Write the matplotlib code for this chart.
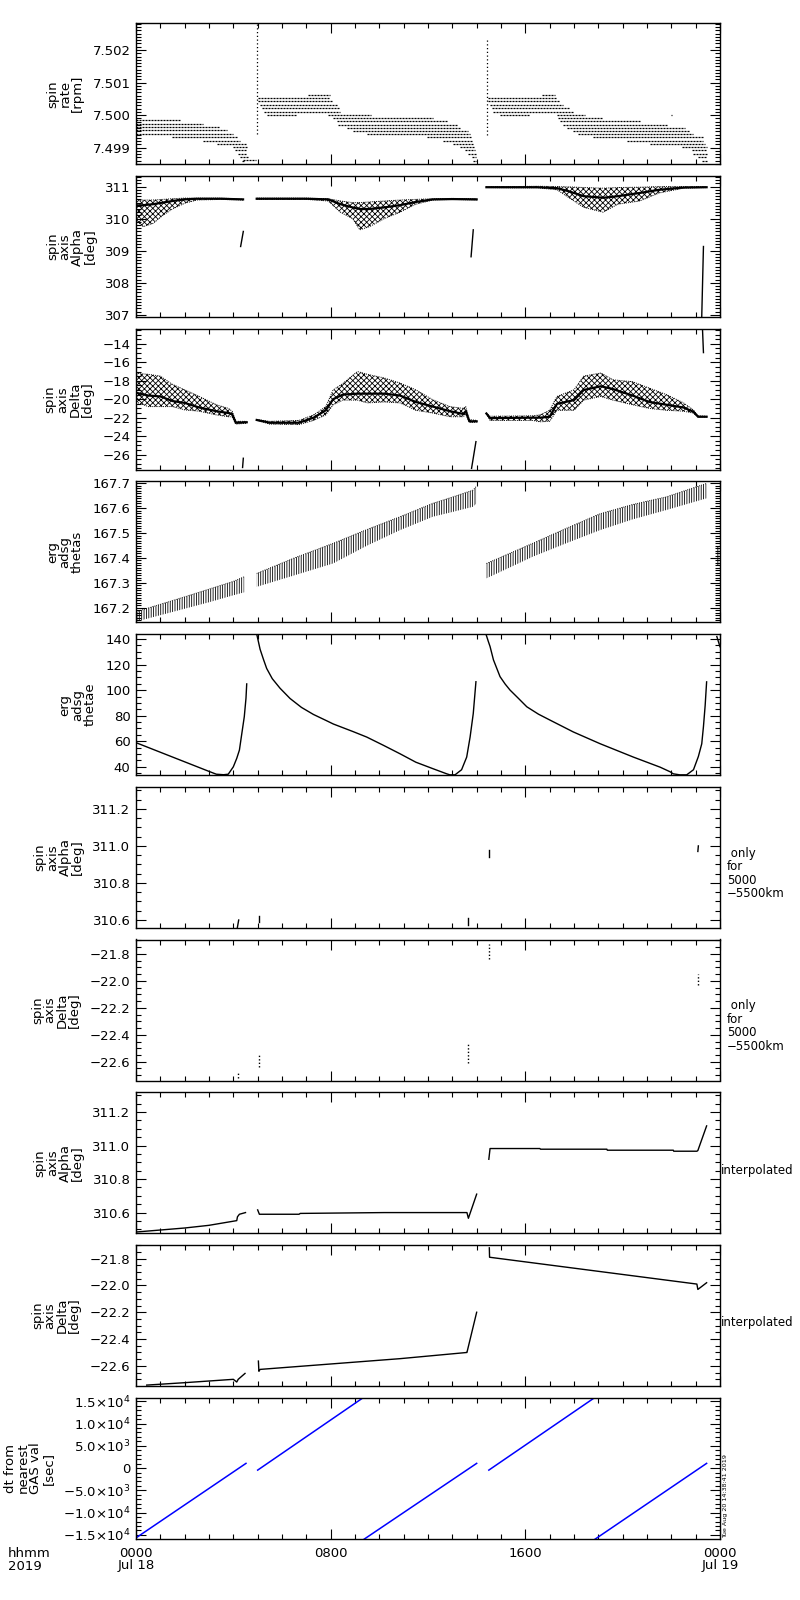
import numpy as np
import matplotlib.pyplot as plt
from matplotlib.ticker import MultipleLocator, FuncFormatter

plt.rcParams['font.family'] = ['DejaVu Sans']
plt.rcParams['hatch.linewidth'] = 0.6
nan = np.nan

# ---------------- data (hours since 2019-07-18 00:00 UT) ----------------
# spin rate [rpm]: quantised levels, hour where each run starts and ends
rate_level = [7.49985, 7.49974, 7.49963, 7.49954, 7.49943, 7.49933, 7.49922, 7.49912,
              7.49902, 7.49892, 7.49882, 7.49871, 7.49862, 7.49860,
              7.50061, 7.50052, 7.50042, 7.50032, 7.50021, 7.50011, 7.50001, 7.50001,
              7.49992, 7.49982, 7.49971, 7.49961, 7.49952, 7.49943, 7.49932, 7.49922,
              7.49912, 7.49902, 7.49892, 7.49882, 7.49871, 7.49860,
              7.50061, 7.50052, 7.50042, 7.50032, 7.50021, 7.50011, 7.50001, 7.50001,
              7.49992, 7.49982, 7.49971, 7.49961, 7.49952, 7.49943, 7.49932, 7.49922,
              7.49912, 7.49902, 7.49892, 7.49882, 7.49871, 7.49860, 7.50001]
rate_t0 = [0.0, 0.0, 0.0, 0.0, 0.0, 1.46, 2.77, 3.32, 4.0, 4.07, 4.21, 4.27, 4.41, 4.34,
           7.08, 5.03, 5.03, 5.1, 5.17, 5.24, 5.37, 7.9,
           8.11, 8.25, 8.31, 8.66, 8.93, 9.48, 11.95, 12.63,
           13.04, 13.32, 13.52, 13.66, 13.8, 13.84,
           16.67, 14.48, 14.48, 14.55, 14.62, 14.69, 14.96, 17.29,
           17.36, 17.43, 17.56, 17.7, 17.97, 18.18, 18.79, 20.17,
           21.13, 22.43, 22.84, 22.91, 23.11, 23.25, 22.0]
rate_t1 = [1.81, 2.77, 3.45, 3.73, 4.0, 4.21, 4.27, 4.55, 4.55, 4.55, 4.55, 4.62, 4.93, 4.48,
           7.97, 7.97, 8.11, 8.25, 8.38, 8.38, 6.6, 9.66,
           12.22, 12.77, 13.25, 13.32, 13.66, 13.73, 13.8, 13.8,
           13.86, 13.93, 13.93, 13.97, 13.97, 14.03,
           17.22, 17.29, 17.43, 17.56, 17.84, 17.97, 16.19, 18.45,
           19.21, 20.72, 21.88, 22.57, 22.77, 22.91, 23.32, 23.32,
           23.39, 23.45, 23.45, 23.45, 23.45, 23.45, 22.03]
rate_spike_t = [4.96, 14.41]
rate_spike_lo = [7.49943, 7.49940]
rate_spike_hi = [7.50290, 7.50237]

# spin axis Alpha [deg]: scatter envelope and dense core
alpha_t = [0, 0.3, 0.7, 1.1, 1.5, 2.0, 2.5, 3.5, 4.4, nan,
           4.96, 6.0, 7.0, 7.9, 8.4, 8.9, 9.2, 9.6, 10.2, 10.85, 11.5, 12.2, 13.0, 14.0, nan,
           14.4, 15.5, 16.5, 17.3, 17.8, 18.4, 19.2, 19.8, 20.7, 21.5, 22.5, 23.45]
alpha_hi = [310.55, 310.58, 310.58, 310.60, 310.62, 310.64, 310.64, 310.64, 310.61, nan,
            310.64, 310.64, 310.64, 310.62, 310.55, 310.50, 310.50, 310.52, 310.55, 310.58,
            310.60, 310.62, 310.63, 310.62, nan,
            311.00, 311.00, 311.01, 311.00, 310.99, 310.97, 310.95, 310.97, 310.98, 311.00,
            311.00, 311.00]
alpha_lo = [309.95, 309.75, 309.85, 310.10, 310.30, 310.48, 310.58, 310.60, 310.58, nan,
            310.60, 310.60, 310.60, 310.55, 310.20, 310.00, 309.65, 309.75, 310.00, 310.20,
            310.45, 310.58, 310.60, 310.58, nan,
            310.97, 310.96, 310.96, 310.90, 310.65, 310.35, 310.20, 310.45, 310.55, 310.80,
            310.95, 310.97]
alpha_mid = [310.40, 310.42, 310.45, 310.50, 310.55, 310.60, 310.62, 310.62, 310.60, nan,
             310.62, 310.62, 310.62, 310.60, 310.45, 310.35, 310.30, 310.30, 310.35, 310.42,
             310.52, 310.60, 310.61, 310.60, nan,
             310.98, 310.98, 310.98, 310.95, 310.85, 310.70, 310.65, 310.70, 310.80, 310.90,
             310.97, 310.98]
alpha_jump = [(4.30, 309.13, 4.41, 309.60), (13.77, 308.81, 13.86, 309.65),
              (23.25, 306.95, 23.32, 309.13)]

# spin axis Delta [deg]
delta_t = [0, 0.5, 1.0, 1.5, 2.0, 2.6, 3.3, 3.8, 3.95, 4.1, 4.55, nan,
           4.96, 5.5, 6.7, 7.3, 7.8, 8.1, 8.5, 9.1, 9.5, 10.2, 10.85, 11.5, 12.2, 12.9,
           13.45, 13.55, 13.7, 14.0, nan,
           14.4, 14.55, 16.3, 16.6, 17.0, 17.3, 18.0, 18.4, 19.1, 19.6, 20.4, 21.1, 21.8,
           22.5, 22.9, 23.1, 23.45]
delta_hi = [-17.2, -17.3, -17.5, -18.4, -18.98, -19.7, -20.6, -21.0, -21.3, -22.4, -22.4, nan,
            -22.2, -22.4, -22.3, -21.7, -20.8, -19.0, -18.3, -17.0, -17.3, -17.7, -18.25,
            -18.98, -20.07, -20.8, -21.0, -20.8, -22.2, -22.3, nan,
            -21.5, -21.85, -21.8, -21.7, -21.2, -19.7, -18.98, -17.5, -17.16, -17.9, -18.1,
            -18.8, -19.5, -20.4, -21.16, -21.8, -21.85]
delta_lo = [-20.3, -20.8, -20.8, -20.8, -21.16, -21.3, -21.7, -21.9, -21.9, -22.7, -22.6, nan,
            -22.3, -22.7, -22.75, -22.3, -21.7, -20.6, -20.1, -20.1, -20.4, -20.3, -20.4,
            -21.2, -21.5, -21.9, -21.9, -21.6, -22.5, -22.5, nan,
            -21.6, -22.3, -22.3, -22.45, -22.4, -21.2, -21.2, -20.1, -19.7, -20.1, -20.6,
            -21.0, -21.2, -21.3, -21.5, -21.95, -21.95]
delta_mid = [-19.3, -19.6, -19.7, -20.2, -20.4, -20.9, -21.3, -21.5, -21.6, -22.55, -22.5, nan,
             -22.25, -22.55, -22.55, -22.0, -21.2, -20.0, -19.5, -19.4, -19.4, -19.4, -19.6,
             -20.3, -20.8, -21.3, -21.6, -21.3, -22.4, -22.4, nan,
             -21.55, -22.05, -22.0, -22.0, -21.9, -20.5, -20.1, -19.0, -18.6, -18.9, -19.6,
             -20.3, -20.6, -20.9, -21.35, -21.9, -21.9]
delta_jump = [(4.38, -27.4, 4.41, -26.4), (13.79, -27.5, 13.97, -24.6),
              (23.28, -12.36, 23.32, -14.95)]

# erg adsg thetas
thetas_t = [0, 1.0, 2.0, 3.0, 4.0, 4.45, nan,
            4.96, 6.5, 8.1, 9.5, 10.85, 12.2, 13.0, 13.85, 14.0, nan,
            14.4, 16.3, 17.7, 19.07, 20.4, 21.8, 23.45, nan, 23.88, 23.95]
thetas_hi = [167.184, 167.214, 167.244, 167.275, 167.306, 167.325, nan,
             167.338, 167.400, 167.459, 167.515, 167.566, 167.620, 167.645, 167.673, 167.690, nan,
             167.378, 167.459, 167.520, 167.578, 167.615, 167.646, 167.700, nan, 167.45, 167.45]
thetas_lo = [167.144, 167.170, 167.196, 167.222, 167.250, 167.262, nan,
             167.284, 167.330, 167.378, 167.450, 167.512, 167.566, 167.585, 167.606, 167.620, nan,
             167.318, 167.405, 167.460, 167.512, 167.555, 167.593, 167.640, nan, 167.37, 167.37]

# erg adsg thetae
thetae_t = [0, 1.0, 2.0, 3.0, 3.3, 3.6, 3.79, 3.86, 4.0, 4.14, 4.25, 4.34, 4.45, 4.52, 4.55, nan,
            4.96, 5.1, 5.24, 5.37, 5.6, 5.92, 6.33, 6.8, 7.29, 7.84, 8.11, 8.93, 9.48,
            10.17, 10.85, 11.5, 12.22, 12.77, 12.9, 13.11,
            13.38, 13.59, 13.73, 13.86, 13.97, nan,
            14.39, 14.48, 14.55, 14.69, 14.96, 15.17, 15.37, 15.72, 16.06, 16.54, 17.02, 17.97,
            19.07, 20.44, 21.54, 21.95, 22.08,
            22.35, 22.63, 22.91, 23.11, 23.25, 23.32, 23.39, 23.45, nan, 23.87, 24.0]
thetae_v = [58.9, 51.4, 43.9, 36.4, 34.2, 33.8, 34.2, 36.1, 40.0, 46.6, 53.1, 64.9, 79.2, 93.7,
            104.9, nan,
            144.0, 132.0, 124.0, 117.0, 109.0, 101.5, 93.5, 86.5, 81.0, 76.0, 73.5, 67.5, 63.3,
            56.8, 50.2, 43.6, 38.4, 34.5, 33.7, 33.7,
            37.7, 47.6, 63.3, 81.7, 106.6, nan,
            143.4, 138.1, 134.2, 123.7, 110.6, 104.8, 100.1, 93.5, 87.0, 81.2, 76.5, 67.3,
            58.1, 47.6, 39.7, 36.1, 34.5,
            33.7, 33.7, 37.7, 48.0, 58.0, 71.5, 88.0, 106.5, nan, 142.0, 134.0]

# spin axis only for 5000-5500 km: (hour0, value0, hour1, value1)
alpha_km = [(4.16, 310.555, 4.22, 310.60), (5.07, 310.59, 5.07, 310.62),
            (13.66, 310.575, 13.66, 310.61), (14.52, 310.94, 14.52, 310.98),
            (23.09, 310.97, 23.11, 311.00)]
delta_km = [(4.19, -22.72, 4.19, -22.68), (5.07, -22.64, 5.07, -22.55),
            (13.66, -22.61, 13.66, -22.46), (14.52, -21.84, 14.52, -21.73),
            (23.11, -22.03, 23.11, -21.95)]

# interpolated spin axis
alpha_int_t = [0, 1.0, 2.0, 3.0, 4.14, 4.17, 4.25, 4.5, nan,
               5.0, 5.07, 6.7, 6.75, 10.2, 13.6, 13.66, 14.0, nan,
               14.5, 14.55, 16.6, 16.62, 19.35, 19.37, 22.08, 22.1, 23.05, 23.09, 23.45]
alpha_int_v = [310.484, 310.496, 310.508, 310.524, 310.552, 310.575, 310.59, 310.60, nan,
               310.616, 310.59, 310.59, 310.595, 310.60, 310.60, 310.566, 310.71, nan,
               310.918, 310.982, 310.982, 310.978, 310.978, 310.972, 310.972, 310.966,
               310.966, 310.97, 311.117]
delta_int_t = [0.44, 2.0, 4.0, 4.14, 4.2, 4.48, nan,
               5.03, 5.05, 5.1, 10.85, 13.59, 13.6, 14.0, nan,
               14.52, 14.53, 23.05, 23.09, 23.45]
delta_int_v = [-22.743, -22.725, -22.70, -22.72, -22.70, -22.656, nan,
               -22.564, -22.64, -22.626, -22.546, -22.50, -22.50, -22.20, nan,
               -21.72, -21.79, -21.99, -22.03, -21.98]

# dt from nearest GAS value [sec]: straight runs (hour0, dt0, hour1, dt1)
dt_runs = [(0.0, -15679, 4.52, 1063), (5.0, -452, 9.28, 15611), (9.35, -16063, 14.0, 1063),
           (14.5, -452, 18.79, 15611), (18.84, -16063, 23.45, 1063)]

# ---------------- layout ----------------
W, H = 800, 1600
fig = plt.figure(figsize=(W / 100, H / 100), dpi=100)
MINUS = '\u2212'


def make_panel(k, ylim, major, minor, fmt, label):
    top = 23.3 + k * 152.7
    ax = fig.add_axes([136 / W, 1 - (top + 141) / H, 584 / W, 141 / H])
    ax.set_xlim(0, 24)
    ax.set_ylim(*ylim)
    ax.xaxis.set_major_locator(MultipleLocator(8))
    ax.xaxis.set_minor_locator(MultipleLocator(1))
    ax.yaxis.set_major_locator(MultipleLocator(major))
    ax.yaxis.set_minor_locator(MultipleLocator(minor))
    ax.yaxis.set_major_formatter(FuncFormatter(fmt))
    ax.tick_params(which='both', direction='in', top=True, right=True, width=0.8,
                   labelsize=9.5, pad=4, labelbottom=False)
    ax.tick_params(which='major', length=7.5)
    ax.tick_params(which='minor', length=3.8)
    for s in ax.spines.values():
        s.set_linewidth(1.0)
    ax.set_ylabel(label, fontsize=9.5, linespacing=0.95, labelpad=6)
    return ax


def fstr(spec):
    return lambda v, pos: (spec % v).replace('-', MINUS)


def sci(v, pos):
    if abs(v) < 1e-6:
        return '0'
    e = int(np.floor(np.log10(abs(v)) + 1e-9))
    m = v / 10 ** e
    sign = MINUS if m < 0 else ''
    return sign + '%.1f' % abs(m) + r'$\times$10$^{%d}$' % e


def pieces(t, *ys):
    t = np.asarray(t, float)
    ys = [np.asarray(y, float) for y in ys]
    cut = np.where(np.isnan(t))[0]
    start = 0
    for c in list(cut) + [len(t)]:
        yield (t[start:c],) + tuple(y[start:c] for y in ys)
        start = c + 1


def cloud(ax, t, lo, hi, mid):
    for tt, l, h, m in pieces(t, lo, hi, mid):
        ax.fill_between(tt, l, h, facecolor='none', edgecolor='k', hatch='xxxxxx',
                        linewidth=0)
        ax.plot(tt, h, color='k', lw=0.7, ls=(0, (1, 1.2)))
        ax.plot(tt, l, color='k', lw=0.7, ls=(0, (1, 1.2)))
        ax.plot(tt, m, color='k', lw=1.6)


# 1 spin rate
ax = make_panel(0, (7.49849, 7.50282), 0.001, 0.0001, fstr('%.3f'), 'spin\nrate\n[rpm]')
ax.hlines(rate_level, rate_t0, rate_t1, colors='k', lw=0.9, linestyles=(0, (1.6, 0.8)))
ax.vlines(rate_spike_t, rate_spike_lo, rate_spike_hi, colors='k', lw=0.9,
          linestyles=(0, (1, 2)))

# 2 spin axis Alpha
ax = make_panel(1, (306.93, 311.33), 1, 0.1, fstr('%d'), 'spin\naxis\nAlpha\n[deg]')
cloud(ax, alpha_t, alpha_lo, alpha_hi, alpha_mid)
for t0, v0, t1, v1 in alpha_jump:
    ax.plot([t0, t1], [v0, v1], color='k', lw=1.0)

# 3 spin axis Delta
ax = make_panel(2, (-27.64, -12.36), 2, 0.5, fstr('%d'), 'spin\naxis\nDelta\n[deg]')
cloud(ax, delta_t, delta_lo, delta_hi, delta_mid)
for t0, v0, t1, v1 in delta_jump:
    ax.plot([t0, t1], [v0, v1], color='k', lw=1.0)

# 4 thetas
ax = make_panel(3, (167.141, 167.708), 0.1, 0.01, fstr('%.1f'), 'erg\nadsg\nthetas')
for tt, l, h in pieces(thetas_t, thetas_lo, thetas_hi):
    ax.fill_between(tt, l, h, facecolor='none', edgecolor='k', hatch='|||||||', linewidth=0)
    ax.plot(tt, h, color='k', lw=0.6, ls=(0, (1, 1.5)))

# 5 thetae
ax = make_panel(4, (33.5, 143.9), 20, 5, fstr('%d'), 'erg\nadsg\nthetae')
ax.plot(thetae_t, thetae_v, color='k', lw=1.0)

# 6, 7 only for 5000-5500 km
ax = make_panel(5, (310.558, 311.319), 0.2, 0.05, fstr('%.1f'), 'spin\naxis\nAlpha\n[deg]')
for t0, v0, t1, v1 in alpha_km:
    ax.plot([t0, t1], [v0, v1], color='k', lw=1.0)
ax = make_panel(6, (-22.739, -21.694), 0.2, 0.05, fstr('%.1f'), 'spin\naxis\nDelta\n[deg]')
for t0, v0, t1, v1 in delta_km:
    ax.plot([t0, t1], [v0, v1], color='k', lw=1.0, ls=(0, (1, 1.5)))
for k in (5, 6):
    top = 23.3 + k * 152.7
    fig.text(727 / W, 1 - (top + 60) / H, ' only\nfor\n5000\n' + MINUS + '5500km',
             fontsize=8.5, va='top', ha='left', linespacing=1.05)

# 8, 9 interpolated
ax = make_panel(7, (310.477, 311.318), 0.2, 0.05, fstr('%.1f'), 'spin\naxis\nAlpha\n[deg]')
ax.plot(alpha_int_t, alpha_int_v, color='k', lw=1.0)
ax = make_panel(8, (-22.749, -21.698), 0.2, 0.05, fstr('%.1f'), 'spin\naxis\nDelta\n[deg]')
ax.plot(delta_int_t, delta_int_v, color='k', lw=1.0)
for k in (7, 8):
    top = 23.3 + k * 152.7
    fig.text(721 / W, 1 - (top + 78) / H, 'interpolated', fontsize=8.5, va='center',
             ha='left')

# 10 dt from nearest GAS val
ax = make_panel(9, (-15840, 15840), 5000, 1000, sci, 'dt from\nnearest\nGAS val\n[sec]')
for t0, d0, t1, d1 in dt_runs:
    ax.plot([t0, t1], [d0, d1], color='#0000ff', lw=1.1)
ax.tick_params(axis='x', labelbottom=True, pad=6)
ax.set_xticks([0, 8, 16, 24])
ax.set_xticklabels(['0000\nJul 18', '0800', '1600', '0000\nJul 19'])
for lbl in ax.get_xticklabels():
    lbl.set_linespacing(0.95)
fig.text(8 / W, 1 - 1547 / H, 'hhmm\n2019', fontsize=9.5, va='top', ha='left',
         linespacing=0.95)
fig.text(723 / W, 1 - 1538 / H, 'Tue Aug 20 14:38:41 2019', fontsize=4.6, rotation=90,
         va='bottom', ha='left')

fig.savefig('out.png', dpi=100)
